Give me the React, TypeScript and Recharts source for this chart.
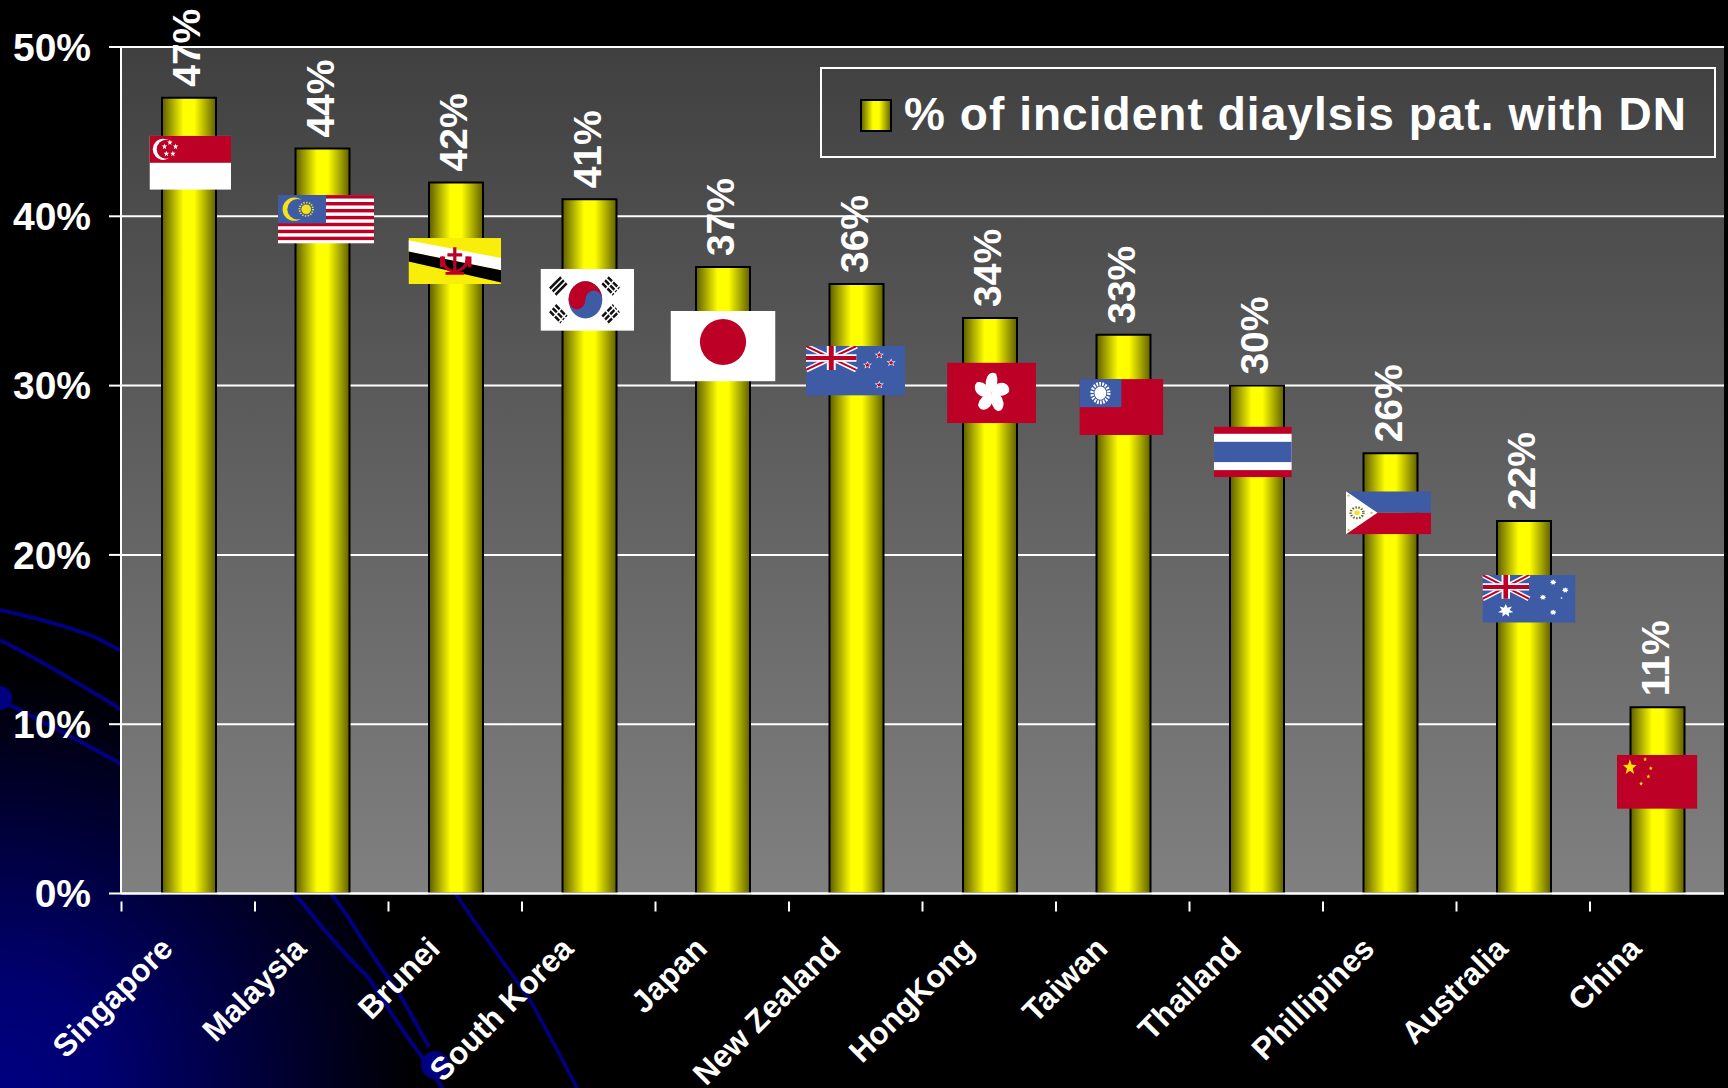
import React from 'react';
import { Bar, BarChart, CartesianGrid, LabelList, Legend, XAxis, YAxis } from 'recharts';

const FONT = '"Liberation Sans", Arial, sans-serif';
const RED = '#bd0026';
const BLUE = '#3e5ba6';

const countries = ['Singapore', 'Malaysia', 'Brunei', 'South Korea', 'Japan', 'New Zealand', 'HongKong', 'Taiwan', 'Thailand', 'Phillipines', 'Australia', 'China'];
const percents = [47, 44, 42, 41, 37, 36, 34, 33, 30, 26, 22, 11];
const yTicks = [0, 10, 20, 30, 40, 50];
const seriesName = '% of incident diaylsis pat. with DN';

const data = countries.map((name, i) => ({ name, value: percents[i] }));

const WIDTH = 1728;
const HEIGHT = 1088;
const PLOT_LEFT = 121;
const PLOT_RIGHT = 4;
const BAR_SHIFT = 1;
const BAND = (WIDTH - PLOT_LEFT - PLOT_RIGHT - BAR_SHIFT) / countries.length;

function star(cx: number, cy: number, r: number, n = 5, inner = 0.42) {
  const pts: string[] = [];
  for (let i = 0; i < n * 2; i++) {
    const a = -Math.PI / 2 + (i * Math.PI) / n;
    const rr = i % 2 === 0 ? r : r * inner;
    pts.push(`${cx + rr * Math.cos(a)},${cy + rr * Math.sin(a)}`);
  }
  return pts.join(' ');
}

// union jack, drawn in the canton of NZ and Australia
function Union({ w, h }: { w: number; h: number }) {
  return (
    <g>
      <rect width={w} height={h} fill={BLUE} />
      <path d={`M0 0L${w} ${h}M${w} 0L0 ${h}`} stroke="#fff" strokeWidth={6} />
      <path d={`M0 0L${w} ${h}M${w} 0L0 ${h}`} stroke={RED} strokeWidth={2.4} />
      <path d={`M${w / 2} 0V${h}M0 ${h / 2}H${w}`} stroke="#fff" strokeWidth={9} />
      <path d={`M${w / 2} 0V${h}M0 ${h / 2}H${w}`} stroke={RED} strokeWidth={5} />
    </g>
  );
}

const Singapore = () => (
  <g>
    <rect width={100} height={60} fill="#fff" />
    <rect width={100} height={30} fill={RED} />
    <ellipse cx={16.9} cy={15} rx={12.9} ry={11.8} fill="#fff" />
    <ellipse cx={20.5} cy={15} rx={11.6} ry={10.6} fill={RED} />
    {[[25, 7.5], [18.4, 12], [32, 12], [20.7, 20], [28.7, 20]].map(([x, y], i) => (
      <polygon key={i} points={star(x, y, 3.5)} fill="#fff" />
    ))}
  </g>
);

const Malaysia = () => (
  <g>
    <rect width={100} height={60} fill="#fff" />
    {[0, 1, 2, 3, 4, 5, 6].map((i) => (
      <rect key={i} y={(i * 60) / 7} width={100} height={30 / 7} fill={RED} />
    ))}
    <rect width={50} height={35} fill={BLUE} />
    <ellipse cx={17} cy={17.5} rx={12.2} ry={14.4} fill="#f5e21a" />
    <ellipse cx={20.5} cy={17.5} rx={10.8} ry={12.8} fill={BLUE} />
    <ellipse cx={29.4} cy={17.5} rx={5} ry={6} fill="#f5e21a" />
    <ellipse cx={29.4} cy={17.5} rx={7} ry={8.4} fill="none" stroke="#f5e21a" strokeWidth={2} strokeDasharray="1.5 1.5" />
  </g>
);

const Brunei = () => (
  <g>
    <rect width={100} height={60} fill="#f8ee0a" />
    <polygon points="0,3 100,26 100,42 0,17.7" fill="#fff" />
    <polygon points="0,17.7 100,42 100,58 0,30.6" fill="#000" />
    <path d="M50 12V44M38 24Q35 40 50 44Q65 40 63 24M40 46H60" stroke={RED} strokeWidth={3.5} fill="none" />
    <path d="M42 22H58M36 24V38M66 24V38" stroke={RED} strokeWidth={4} />
  </g>
);

const Korea = () => (
  <g>
    <rect width={100} height={60} fill="#fff" />
    <circle cx={48} cy={30} r={18} fill={BLUE} />
    <path d="M30 30A18 18 0 0 1 66 30A9 9 0 0 0 48 30A9 9 0 0 1 30 30Z" fill={RED} />
    <g stroke="#111" strokeWidth={2.6}>
      <path d="M10 19L22 8M13 22L25 11M16 25L28 14" />
      <path d="M72 8L84 19M69 11L81 22M66 14L78 25" strokeDasharray="6 1.5" />
      <path d="M10 41L22 52M13 38L25 49M16 35L28 46" strokeDasharray="6 1.5" />
      <path d="M72 52L84 41M69 49L81 38M66 46L78 35" strokeDasharray="6 1.5" />
    </g>
  </g>
);

const Japan = () => (
  <g>
    <rect width={100} height={60} fill="#fff" />
    <ellipse cx={50} cy={26.5} rx={22} ry={19.5} fill={RED} />
  </g>
);

const NewZealand = () => (
  <g>
    <rect width={100} height={60} fill={BLUE} />
    <Union w={51} h={29} />
    {[[74, 11], [86, 20], [62, 23], [74, 47]].map(([x, y], i) => (
      <g key={i}>
        <polygon points={star(x, y, 5)} fill="#fff" />
        <polygon points={star(x, y, 3.2)} fill={RED} />
      </g>
    ))}
  </g>
);

const HongKong = () => (
  <g>
    <rect width={100} height={60} fill={RED} />
    {[0, 72, 144, 216, 288].map((a) => (
      <path
        key={a}
        d="M50 30Q40 24 45 14Q49 8 55 11Q60 20 50 30Z"
        fill="#fff"
        transform={`rotate(${a} 50 30)`}
      />
    ))}
  </g>
);

const Taiwan = () => (
  <g>
    <rect width={100} height={60} fill={RED} />
    <rect width={50} height={30} fill={BLUE} />
    <circle cx={25} cy={15} r={10} fill="none" stroke="#fff" strokeWidth={4} strokeDasharray="2 1.5" />
    <circle cx={25} cy={15} r={7} fill="#fff" />
  </g>
);

const Thailand = () => (
  <g>
    <rect width={100} height={60} fill={RED} />
    <rect y={8.5} width={100} height={43} fill="#fff" />
    <rect y={18} width={100} height={24} fill={BLUE} />
  </g>
);

const Philippines = () => (
  <g>
    <rect width={100} height={30} fill={BLUE} />
    <rect y={30} width={100} height={30} fill={RED} />
    <polygon points="0,0 37,30 0,60" fill="#fff" />
    <circle cx={13} cy={30} r={3.2} fill="#f5e21a" />
    <circle cx={13} cy={30} r={7.5} fill="none" stroke="#6e6a18" strokeWidth={3} strokeDasharray="1.8 1.8" />
    {[[3, 6], [3, 54], [30, 30]].map(([x, y], i) => (
      <polygon key={i} points={star(x, y, 2.2)} fill="#c8bd2a" />
    ))}
  </g>
);

const Australia = () => (
  <g>
    <rect width={100} height={60} fill={BLUE} />
    <Union w={50} h={30} />
    <polygon points={star(25, 45, 8.5, 7, 0.5)} fill="#fff" />
    {[[76, 9], [89, 19], [65, 28], [76, 47]].map(([x, y], i) => (
      <polygon key={i} points={star(x, y, 3.6, 7, 0.6)} fill="#fff" />
    ))}
    <circle cx={85} cy={29} r={1} fill="#fff" />
  </g>
);

const China = () => (
  <g>
    <rect width={100} height={60} fill={RED} />
    <polygon points={star(16, 14, 9)} fill="#ffe600" />
    {[[35, 5], [42, 15], [39, 24], [30, 32]].map(([x, y], i) => (
      <polygon key={i} points={star(x, y, 2.6)} fill="#ffe600" />
    ))}
  </g>
);

const flagArt = [Singapore, Malaysia, Brunei, Korea, Japan, NewZealand, HongKong, Taiwan, Thailand, Philippines, Australia, China];
// flag box relative to bar centre and bar top: dx, dy, width, height
const flagBoxes = [
  [-39.5, 38, 81.5, 54],
  [-44.5, 46.5, 96, 48.5],
  [-47.5, 55.6, 92.6, 46],
  [-49, 69.5, 93.6, 62],
  [-52.5, 43.8, 105, 70.5],
  [-50.5, 62, 99, 49.6],
  [-42.9, 44.7, 89, 60.6],
  [-44.1, 44.3, 84, 56],
  [-43.2, 41, 78, 50.7],
  [-44.5, 38, 85, 43],
  [-41.5, 54, 93, 47.6],
  [-40.5, 47.6, 80.4, 54],
];

function FlagMark(props: any) {
  const { x, y, width, index } = props;
  const [dx, dy, w, h] = flagBoxes[index];
  const Art = flagArt[index];
  return (
    <svg x={x + width / 2 + dx} y={y + dy} width={w} height={h} viewBox="0 0 100 60" preserveAspectRatio="none">
      <Art />
    </svg>
  );
}

function ValueLabel(props: any) {
  const { x, y, width, value } = props;
  const px = x + width / 2 + 11;
  const py = y - 11;
  return (
    <text
      transform={`translate(${px},${py}) rotate(-90)`}
      fill="#fff"
      fontFamily={FONT}
      fontWeight={700}
      fontSize={39}
    >
      {value}%
    </text>
  );
}

function CountryTick(props: any) {
  const { x, y, payload } = props;
  const left = x - BAND / 2 - BAR_SHIFT / 2;
  return (
    <g>
      <line x1={left} x2={left} y1={y} y2={y + 10} stroke="#fff" strokeWidth={2} />
      <text
        transform={`translate(${x - 14},${y + 49}) rotate(-45)`}
        textAnchor="end"
        fill="#fff"
        fontFamily={FONT}
        fontWeight={700}
        fontSize={31.5}
      >
        {payload.value}
      </text>
    </g>
  );
}

function LegendBox() {
  return (
    <div
      style={{
        boxSizing: 'border-box',
        width: 896,
        height: 91,
        border: '2px solid #fff',
        position: 'relative',
      }}
    >
      <svg width={32} height={33} style={{ position: 'absolute', left: 38, top: 30 }}>
        <rect x={1} y={1} width={30} height={31} fill="url(#barFill)" stroke="#000" strokeWidth={2} />
      </svg>
      <span
        style={{
          position: 'absolute',
          left: 82,
          top: 17,
          whiteSpace: 'nowrap',
          color: '#fff',
          fontFamily: FONT,
          fontWeight: 700,
          fontSize: 46,
          lineHeight: '56px',
          letterSpacing: 1.05,
        }}
      >
        {seriesName}
      </span>
    </div>
  );
}

function Backdrop() {
  return (
    <svg width={WIDTH} height={HEIGHT} style={{ position: 'absolute', left: 0, top: 0 }}>
      <defs>
        <radialGradient id="cornerGlow" gradientUnits="userSpaceOnUse" cx={0} cy={1088} r={420}>
          <stop offset="0" stopColor="#000080" />
          <stop offset="0.25" stopColor="#000070" />
          <stop offset="1" stopColor="#000" />
        </radialGradient>
      </defs>
      <rect width={WIDTH} height={HEIGHT} fill="#000" />
      <rect width={WIDTH} height={HEIGHT} fill="url(#cornerGlow)" />
      <g fill="none" stroke="#000080" strokeWidth={4}>
        <path d="M0 610Q55 622 95 637L125 653" />
        <path d="M0 640Q50 665 125 712" />
        <path d="M0 700Q60 730 125 766" />
        <path d="M290 890Q305 905 316 920Q345 955 368 977Q395 1020 419 1053L445 1092" />
        <path d="M328 890Q338 902 348 917Q375 960 399 993L429 1047" />
        <path d="M453 890Q470 915 482 932Q505 965 530 1000Q555 1045 579 1092" strokeWidth={3.5} />
      </g>
      <circle cx={435} cy={1065} r={14} fill="#000080" />
      <circle cx={0} cy={698} r={12} fill="#000080" />
    </svg>
  );
}

export default function App() {
  return (
    <div style={{ position: 'absolute', left: 0, top: 0, width: WIDTH, height: HEIGHT, overflow: 'hidden' }}>
      <Backdrop />
      <div style={{ position: 'absolute', left: 0, top: 0 }}>
        <BarChart
          width={WIDTH}
          height={HEIGHT}
          data={data}
          barSize={54}
          margin={{ top: 47, right: PLOT_RIGHT, left: 0, bottom: 0 }}
        >
          <defs>
            <linearGradient id="plotFill" x1="0" y1="0" x2="0" y2="1">
              <stop offset="0" stopColor="#404040" />
              <stop offset="1" stopColor="#808080" />
            </linearGradient>
            <linearGradient id="barFill" x1="0" y1="0" x2="1" y2="0">
              <stop offset="0" stopColor="#5c5c00" />
              <stop offset="0.4" stopColor="#ffff00" />
              <stop offset="0.6" stopColor="#ffff00" />
              <stop offset="1" stopColor="#5f5f00" />
            </linearGradient>
          </defs>
          <CartesianGrid vertical={false} stroke="#fff" strokeWidth={2} fill="url(#plotFill)" fillOpacity={1} />
          <XAxis
            dataKey="name"
            interval={0}
            height={194.5}
            padding={{ left: BAR_SHIFT, right: 0 }}
            axisLine={{ stroke: '#fff', strokeWidth: 2 }}
            tickLine={false}
            tick={<CountryTick />}
          />
          <YAxis
            domain={[0, 50]}
            ticks={yTicks}
            width={PLOT_LEFT}
            tickFormatter={(v: number) => `${v}%`}
            axisLine={{ stroke: '#fff', strokeWidth: 2 }}
            tickLine={{ stroke: '#fff', strokeWidth: 2 }}
            tickSize={12}
            tickMargin={18}
            tick={{ fill: '#fff', fontFamily: FONT, fontWeight: 700, fontSize: 39 }}
          />
          <YAxis
            yAxisId="right"
            orientation="right"
            domain={[0, 50]}
            width={0}
            tick={false}
            tickLine={false}
            axisLine={{ stroke: '#fff', strokeWidth: 2 }}
          />
          <Legend
            layout="horizontal"
            verticalAlign="middle"
            width={896}
            wrapperStyle={{ left: 820, top: 67, width: 896, height: 91 }}
            content={<LegendBox />}
          />
          <Bar dataKey="value" name={seriesName} fill="url(#barFill)" stroke="#000" strokeWidth={2} isAnimationActive={false}>
            <LabelList dataKey="value" content={<FlagMark />} />
            <LabelList dataKey="value" content={<ValueLabel />} />
          </Bar>
        </BarChart>
      </div>
    </div>
  );
}
